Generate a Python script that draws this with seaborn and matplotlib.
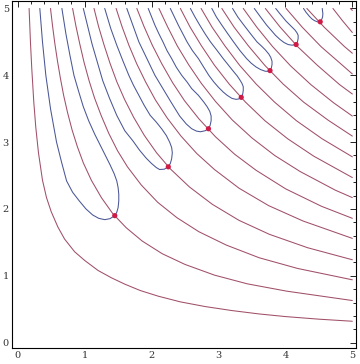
import matplotlib
matplotlib.use("Agg")
import matplotlib.pyplot as plt
from matplotlib.ticker import MultipleLocator
import seaborn as sns

# red level curves, top edge -> right edge
red_x = [
    [0.17, 0.19, 0.21, 0.24, 0.27, 0.31, 0.37, 0.43, 0.5, 0.6, 0.7, 0.85, 1.0, 1.2, 1.4, 1.6, 1.83, 2.1, 2.43, 2.8, 3.2, 3.6, 4.0, 4.5, 5.0],
    [0.49, 0.519, 0.554, 0.593, 0.637, 0.686, 0.745, 0.813, 0.892, 0.98, 1.10, 1.25, 1.42, 1.62, 1.86, 2.16, 2.50, 2.94, 3.43, 4.02, 5.0],
    [0.82, 0.869, 0.927, 0.992, 1.066, 1.148, 1.246, 1.361, 1.492, 1.64, 1.845, 2.091, 2.378, 2.706, 3.116, 3.608, 4.182, 5.0],
    [1.14, 1.208, 1.288, 1.379, 1.482, 1.596, 1.733, 1.892, 2.075, 2.28, 2.565, 2.907, 3.306, 3.762, 4.332, 5.0],
    [1.47, 1.558, 1.661, 1.779, 1.911, 2.058, 2.234, 2.44, 2.675, 2.94, 3.308, 3.749, 4.263, 5.0],
    [1.78, 1.887, 2.011, 2.154, 2.314, 2.492, 2.706, 2.955, 3.24, 3.56, 4.005, 4.539, 5.0],
    [2.11, 2.237, 2.384, 2.553, 2.743, 2.954, 3.207, 3.503, 3.84, 4.22, 4.748, 5.0],
    [2.43, 2.576, 2.746, 2.94, 3.159, 3.402, 3.694, 4.034, 4.423, 5.0],
    [2.74, 2.904, 3.096, 3.315, 3.562, 3.836, 4.165, 4.548, 5.0],
    [3.05, 3.233, 3.447, 3.691, 3.965, 4.27, 4.636, 5.0],
    [3.37, 3.572, 3.808, 4.078, 4.381, 4.718, 5.0],
    [3.70, 3.922, 4.181, 4.477, 4.81, 5.0],
    [4.01, 4.251, 4.531, 4.852, 5.0],
    [4.32, 4.579, 4.882, 5.0],
    [4.71, 4.85, 5.0],
    [4.97, 5.0],
]
red_y = [
    [5.0, 4.50, 4.10, 3.60, 3.22, 2.84, 2.43, 2.17, 1.96, 1.73, 1.55, 1.36, 1.23, 1.08, 0.97, 0.875, 0.78, 0.695, 0.61, 0.54, 0.48, 0.43, 0.39, 0.351, 0.32],
    [5.0, 4.75, 4.48, 4.22, 3.96, 3.70, 3.44, 3.18, 2.93, 2.69, 2.43, 2.17, 1.93, 1.72, 1.52, 1.33, 1.17, 1.01, 0.88, 0.77, 0.63],
    [5.0, 4.74, 4.47, 4.19, 3.92, 3.66, 3.40, 3.13, 2.87, 2.63, 2.36, 2.10, 1.87, 1.66, 1.46, 1.27, 1.11, 0.94],
    [5.0, 4.73, 4.46, 4.18, 3.90, 3.64, 3.37, 3.10, 2.84, 2.60, 2.33, 2.07, 1.83, 1.62, 1.42, 1.24],
    [5.0, 4.73, 4.45, 4.17, 3.90, 3.63, 3.36, 3.09, 2.83, 2.59, 2.31, 2.05, 1.82, 1.56],
    [5.0, 4.73, 4.45, 4.17, 3.89, 3.62, 3.35, 3.08, 2.82, 2.58, 2.30, 2.04, 1.86],
    [5.0, 4.73, 4.44, 4.16, 3.88, 3.61, 3.33, 3.06, 2.80, 2.56, 2.28, 2.17],
    [5.0, 4.72, 4.44, 4.15, 3.87, 3.60, 3.32, 3.05, 2.79, 2.47],
    [5.0, 4.72, 4.44, 4.15, 3.87, 3.60, 3.32, 3.05, 2.78],
    [5.0, 4.72, 4.44, 4.15, 3.87, 3.60, 3.33, 3.09],
    [5.0, 4.72, 4.43, 4.14, 3.86, 3.59, 3.39],
    [5.0, 4.72, 4.43, 4.15, 3.86, 3.72],
    [5.0, 4.72, 4.43, 4.15, 4.02],
    [5.0, 4.72, 4.43, 4.33],
    [5.0, 4.82, 4.64],
    [5.0, 4.97],
]

# blue U-shaped curves: left arm top -> bottom -> dot -> right arm top
blue_x = [
    [0.33, 0.37, 0.42, 0.49, 0.58, 0.655, 0.73, 0.82, 0.92, 1.02, 1.12, 1.21, 1.30, 1.38, 1.45,
     1.48, 1.50, 1.51, 1.51, 1.50, 1.48, 1.44, 1.38, 1.31, 1.23, 1.15, 1.06, 0.98, 0.91, 0.84, 0.78, 0.72, 0.66],
    [0.98, 1.11, 1.27, 1.37, 1.48, 1.60, 1.72, 1.82, 1.92, 2.0, 2.07, 2.12, 2.19, 2.25,
     2.28, 2.30, 2.31, 2.30, 2.27, 2.22, 2.15, 2.07, 1.98, 1.89, 1.81, 1.73, 1.66, 1.57, 1.48, 1.39, 1.30],
    [1.63, 1.72, 1.81, 1.93, 2.05, 2.17, 2.29, 2.42, 2.52, 2.60, 2.67, 2.73, 2.80, 2.85,
     2.875, 2.89, 2.89, 2.87, 2.83, 2.78, 2.70, 2.60, 2.53, 2.45, 2.37, 2.30, 2.23, 2.17, 2.11, 2.05, 1.95],
    [2.28, 2.40, 2.53, 2.61, 2.70, 2.78, 2.855, 2.93, 3.0, 3.07, 3.13, 3.20, 3.26, 3.30, 3.34,
     3.36, 3.37, 3.37, 3.35, 3.32, 3.28, 3.23, 3.15, 3.07, 2.98, 2.88, 2.80, 2.72, 2.65, 2.58],
    [2.90, 2.97, 3.05, 3.14, 3.225, 3.32, 3.42, 3.49, 3.56, 3.63, 3.70, 3.74, 3.77,
     3.79, 3.80, 3.80, 3.78, 3.75, 3.70, 3.64, 3.575, 3.48, 3.38, 3.29, 3.21],
    [3.535, 3.63, 3.72, 3.79, 3.85, 3.92, 3.98, 4.04, 4.10, 4.16,
     4.18, 4.19, 4.19, 4.17, 4.14, 4.10, 4.06, 4.01, 3.96, 3.91, 3.855],
    [4.27, 4.31, 4.36, 4.40, 4.44, 4.48, 4.52, 4.54, 4.555, 4.56, 4.555, 4.55],
]
blue_y = [
    [5.0, 4.5, 4.0, 3.5, 3.0, 2.7, 2.42, 2.25, 2.12, 2.0, 1.91, 1.86, 1.84, 1.855, 1.90,
     1.95, 2.02, 2.12, 2.22, 2.32, 2.42, 2.53, 2.66, 2.80, 2.96, 3.12, 3.32, 3.53, 3.76, 4.0, 4.3, 4.62, 5.0],
    [5.0, 4.47, 3.92, 3.66, 3.4, 3.17, 3.02, 2.88, 2.76, 2.68, 2.62, 2.59, 2.595, 2.63,
     2.68, 2.75, 2.84, 2.92, 3.0, 3.1, 3.2, 3.3, 3.4, 3.55, 3.7, 3.85, 4.0, 4.22, 4.45, 4.7, 5.0],
    [5.0, 4.75, 4.5, 4.25, 4.0, 3.8, 3.6, 3.39, 3.27, 3.20, 3.165, 3.155, 3.17, 3.20,
     3.25, 3.32, 3.39, 3.46, 3.53, 3.6, 3.7, 3.8, 3.9, 4.0, 4.12, 4.25, 4.37, 4.5, 4.62, 4.75, 5.0],
    [5.0, 4.75, 4.5, 4.37, 4.25, 4.12, 4.0, 3.9, 3.82, 3.75, 3.70, 3.655, 3.64, 3.645, 3.67,
     3.71, 3.77, 3.83, 3.88, 3.93, 3.99, 4.05, 4.15, 4.25, 4.37, 4.5, 4.62, 4.75, 4.87, 5.0],
    [5.0, 4.87, 4.75, 4.62, 4.5, 4.37, 4.25, 4.18, 4.125, 4.085, 4.06, 4.06, 4.07,
     4.11, 4.16, 4.21, 4.27, 4.32, 4.38, 4.44, 4.5, 4.62, 4.75, 4.87, 5.0],
    [5.0, 4.87, 4.75, 4.67, 4.6, 4.535, 4.49, 4.46, 4.45, 4.46,
     4.50, 4.55, 4.60, 4.64, 4.68, 4.72, 4.76, 4.81, 4.87, 4.93, 5.0],
    [5.0, 4.94, 4.88, 4.84, 4.815, 4.80, 4.80, 4.83, 4.87, 4.92, 4.96, 5.0],
]

# tangency points
dot_x = [1.45, 2.25, 2.85, 3.34, 3.77, 4.16, 4.52]
dot_y = [1.90, 2.63, 3.20, 3.67, 4.07, 4.46, 4.80]

sns.set_style("white")
plt.rcParams["font.family"] = ["DejaVu Serif"]

fig = plt.figure(figsize=(3.6, 3.64), dpi=100)
ax = fig.add_axes([0.0325, 0.044, 0.9555, 0.953])

for xs, ys in zip(red_x, red_y):
    sns.lineplot(x=xs, y=ys, sort=False, estimator=None, ax=ax,
                 color="#a04f68", linewidth=0.75)
for xs, ys in zip(blue_x, blue_y):
    sns.lineplot(x=xs, y=ys, sort=False, estimator=None, ax=ax,
                 color="#4a5696", linewidth=0.75)
sns.scatterplot(x=dot_x, y=dot_y, ax=ax, color="#d01a46", s=14,
                edgecolor="none", zorder=5)

ax.set_xlim(-0.09, 5.05)
ax.set_ylim(-0.08, 5.11)
ax.xaxis.set_major_locator(MultipleLocator(1))
ax.yaxis.set_major_locator(MultipleLocator(1))
ax.xaxis.set_minor_locator(MultipleLocator(0.2))
ax.yaxis.set_minor_locator(MultipleLocator(0.2))
ax.tick_params(which="both", direction="in", top=True, right=True,
               width=0.6, colors="black", labelcolor="#333333", labelsize=7, pad=2)
ax.tick_params(which="major", length=4)
ax.tick_params(which="minor", length=2)
for s in ax.spines.values():
    s.set_color("black")
    s.set_linewidth(0.8)

fig.savefig("out.png", dpi=100)
